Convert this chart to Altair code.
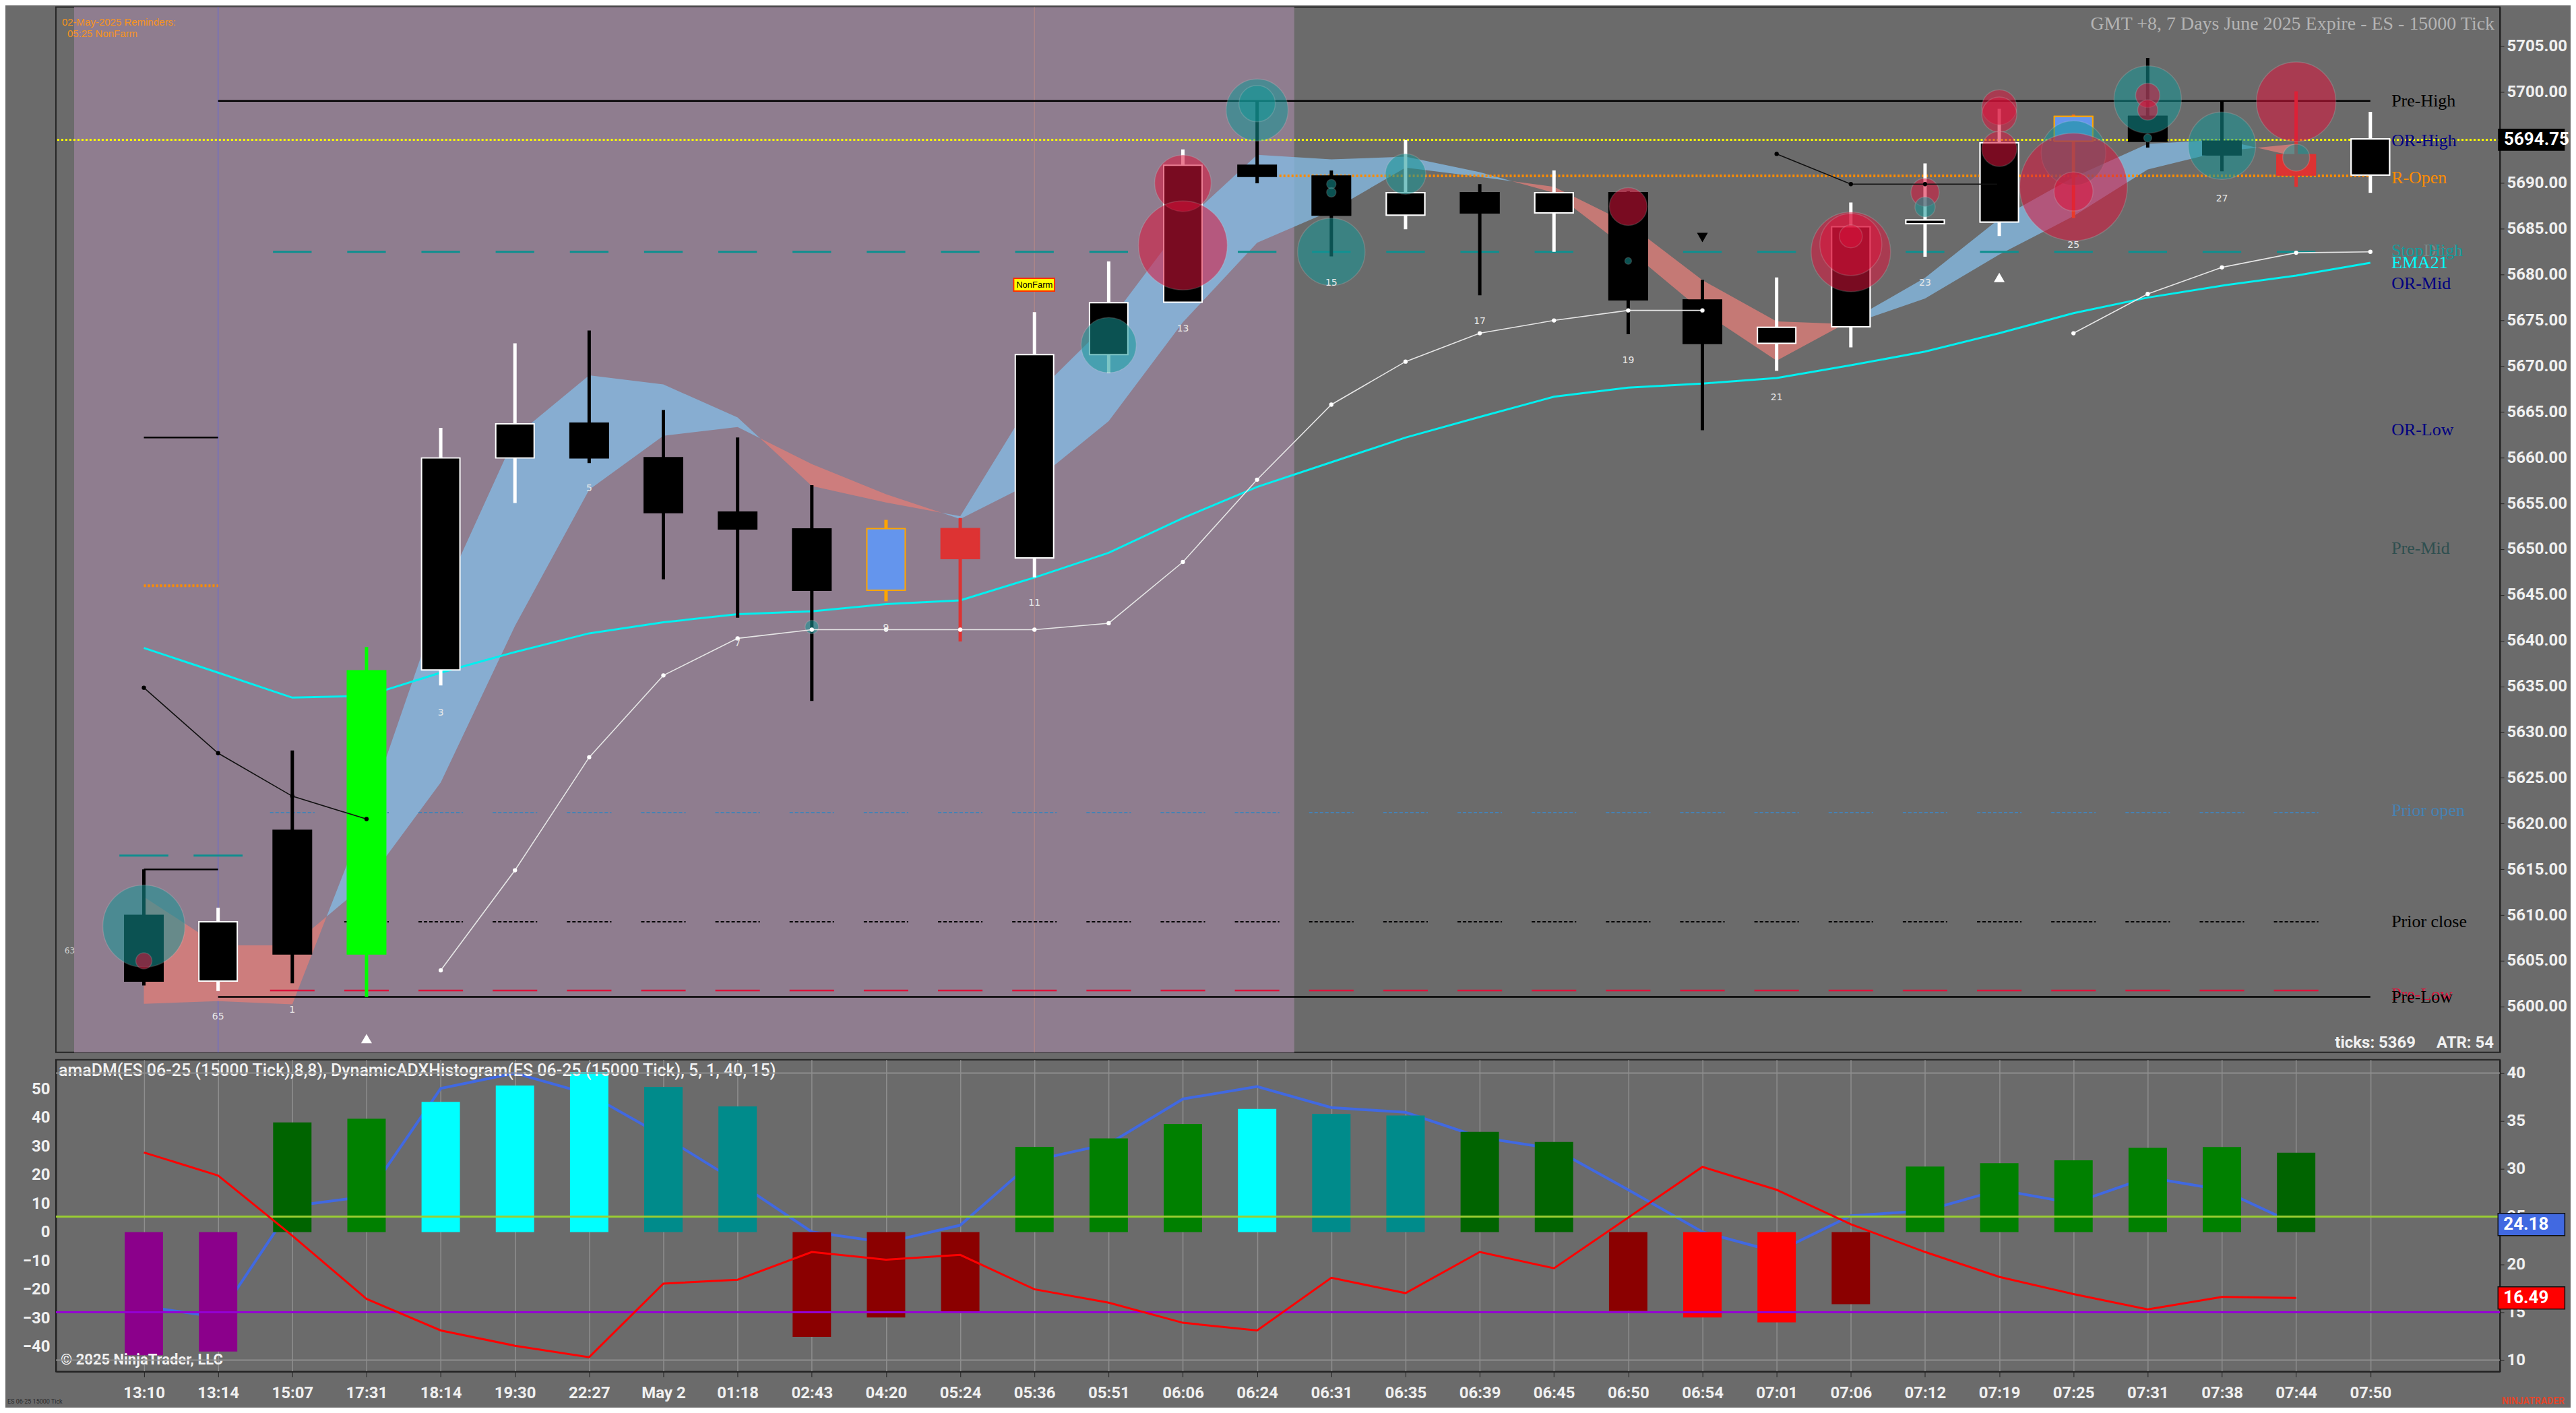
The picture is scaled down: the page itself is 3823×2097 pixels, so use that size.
import altair as alt
import pandas as pd

# ---------------- data ----------------
TIME_LABELS = ["13:10", "13:14", "15:07", "17:31", "18:14", "19:30", "22:27", "May 2",
               "01:18", "02:43", "04:20", "05:24", "05:36", "05:51", "06:06", "06:24",
               "06:31", "06:35", "06:39", "06:45", "06:50", "06:54", "07:01", "07:06",
               "07:12", "07:19", "07:25", "07:31", "07:38", "07:44", "07:50"]

BODY_TOP = [5609.97, 5609.26, 5619.26, 5636.7, 5659.97, 5663.7, 5663.77, 5660.0, 5654.05, 5652.2,
            5652.25, 5652.25, 5671.26, 5676.94, 5691.96, 5691.96, 5690.79, 5688.96, 5688.96, 5688.96,
            5688.96, 5677.24, 5674.25, 5685.24, 5685.97, 5694.42, 5697.3, 5697.3, 5694.6, 5693.1, 5694.83]
BODY_BOT = [5602.79, 5602.79, 5605.75, 5605.75, 5636.8, 5659.97, 5659.97, 5654.0, 5652.2, 5645.5,
            5645.5, 5648.96, 5649.05, 5671.26, 5676.99, 5690.74, 5686.52, 5686.52, 5686.75, 5686.75,
            5677.27, 5672.5, 5672.5, 5674.3, 5685.58, 5685.75, 5694.6, 5694.6, 5693.1, 5690.9, 5690.9]
HIGH = [5615.0, 5610.8, 5628.0, 5639.3, 5663.26, 5672.5, 5673.9, 5665.2, 5662.2, 5657.0,
        5653.2, 5653.4, 5675.9, 5681.45, 5693.7, 5698.96, 5691.4, 5694.73, 5689.9, 5691.4,
        5689.1, 5679.44, 5679.7, 5687.9, 5692.17, 5698.14, 5697.5, 5703.7, 5699.0, 5700.05, 5697.8]
LOW = [5602.3, 5601.7, 5602.55, 5601.05, 5635.1, 5655.04, 5659.4, 5646.7, 5642.5, 5633.4,
       5644.3, 5639.9, 5646.9, 5669.24, 5676.99, 5689.99, 5682.0, 5684.97, 5677.74, 5682.5,
       5673.5, 5663.0, 5669.5, 5672.06, 5681.97, 5684.23, 5686.2, 5693.9, 5691.3, 5689.6, 5688.95]

K, W_, LIME, BLUE_C, ORG, RED_C = "#000000", "#FFFFFF", "#00FF00", "#6495ED", "#FFA500", "#DD3333"
BODY_FILL = [K, K, K, LIME, K, K, K, K, K, K, BLUE_C, RED_C, K, K, K, K, K, K, K, K,
             K, K, K, K, K, K, BLUE_C, K, K, RED_C, K]
WICK_COLOR = [K, W_, K, LIME, W_, W_, K, K, K, K, ORG, RED_C, W_, W_, W_, K, K, W_, K, W_,
              K, K, W_, W_, W_, W_, "#FF6A10", K, K, RED_C, W_]
BODY_EDGE = [K, W_, K, LIME, W_, W_, K, K, K, K, ORG, RED_C, W_, W_, W_, K, K, W_, K, W_,
             K, K, W_, W_, W_, W_, ORG, K, K, RED_C, W_]

EMA21 = [5639.2, 5636.5, 5633.77, 5633.96, 5636.5, 5638.75, 5640.8, 5642.0, 5642.9, 5643.2,
         5644.0, 5644.4, 5646.9, 5649.6, 5653.4, 5656.8, 5659.5, 5662.2, 5664.45, 5666.66,
         5667.65, 5668.1, 5668.7, 5670.1, 5671.6, 5673.6, 5675.8, 5677.5, 5678.8, 5679.9, 5681.3]

# ribbon (fast / slow averages), bars 0..29
RIB_FAST = [5600.3, 5600.6, 5600.25, 5621.0, 5644.5, 5662.3, 5669.0, 5668.0, 5664.4, 5656.9,
            5655.1, 5653.6, 5666.8, 5674.8, 5685.6, 5693.1, 5692.6, 5692.9, 5691.2, 5688.96,
            5682.76, 5676.0, 5670.6, 5675.0, 5679.66, 5686.1, 5690.65, 5694.3, 5694.76, 5692.9]
RIB_SLOW = [5612.0, 5606.7, 5606.7, 5613.5, 5624.5, 5641.6, 5656.5, 5662.4, 5663.35, 5659.3,
            5656.0, 5653.3, 5657.4, 5664.0, 5674.8, 5683.5, 5687.0, 5691.7, 5690.7, 5689.6,
            5685.6, 5679.4, 5674.9, 5674.6, 5677.4, 5682.2, 5686.4, 5691.5, 5693.5, 5694.3]

WHITE_A_BARS = list(range(4, 22))
WHITE_A = [5603.96, 5614.9, 5627.25, 5636.2, 5640.25, 5641.2, 5641.2, 5641.2, 5641.2, 5641.9,
           5648.6, 5657.6, 5665.8, 5670.5, 5673.6, 5675.0, 5676.1, 5676.1]
WHITE_B_BARS = [26, 27, 28, 29, 30]
WHITE_B = [5673.6, 5677.9, 5680.8, 5682.4, 5682.5]
BLACK_A_BARS = [0, 1, 2, 3]
BLACK_A = [5634.85, 5627.7, 5623.0, 5620.5]
BLACK_B_BARS = [22, 23, 24, 25]
BLACK_B = [5693.2, 5689.9, 5689.9, 5689.9]

BUBBLE_BAR = [0, 0, 9, 13, 14, 14, 15, 15, 16, 16, 16, 17, 20, 20, 23, 23, 23, 24, 24, 25, 25, 25,
              26, 26, 26, 27, 27, 27, 27, 28, 29, 29]
BUBBLE_PRICE = [5608.8, 5605.0, 5641.5, 5672.3, 5690.0, 5683.2, 5698.0, 5698.7, 5682.5, 5689.9,
                5689.0, 5691.0, 5687.45, 5681.5, 5682.5, 5683.3, 5684.2, 5689.0, 5687.4, 5698.3,
                5697.5, 5693.75, 5693.3, 5689.6, 5689.1, 5699.15, 5699.6, 5698.0, 5694.95, 5694.1,
                5698.9, 5692.8]
BUBBLE_R = [61, 12, 10, 41, 42, 66, 46, 27, 50, 7, 7, 30, 28, 5, 59, 46, 17, 21, 15, 26, 26, 26,
            48, 80, 29, 50, 18, 15, 6, 50, 59, 20]
BUBBLE_KIND = ["t", "c", "t", "t", "c", "c", "t", "t", "t", "t", "t", "t", "c", "t", "c", "c", "c",
               "c", "t", "c", "c", "c", "t", "c", "c", "t", "c", "c", "t", "t", "c", "t"]

COUNT_BARS = [1, 2, 4, 6, 8, 10, 12, 14, 16, 18, 20, 22, 24, 26, 28]
COUNT_TEXT = ["65", "1", "3", "5", "7", "9", "11", "13", "15", "17", "19", "21", "23", "25", "27"]
COUNT_PRICE = [5598.9, 5599.6, 5632.1, 5656.6, 5639.7, 5641.4, 5644.1, 5674.1, 5679.1, 5674.9,
               5670.6, 5666.6, 5679.1, 5683.2, 5688.3]

TRI_UP_BARS = [3, 25]
TRI_UP_PRICE = [5596.5, 5679.7]
TRI_DN_BARS = [21]
TRI_DN_PRICE = [5684.06]

LAST_PRICE = 5694.75
PRE_HIGH = 5699.0
R_OPEN = 5690.8
STOP_LVL = 5682.5
PRIOR_OPEN = 5621.2
PRIOR_CLOSE = 5609.26
PRE_LOW = 5601.05
PRE_LOW_RED = 5601.75

LEVEL_NAMES = ["Pre-High", "OR-High", "R-Open", "StopDitch", "Stop High", "EMA21", "OR-Mid",
               "OR-Low", "Pre-Mid", "Prior open", "Prior close", "Pre-Low", "Pre-Low"]
LEVEL_PRICES = [5699.0, 5694.6, 5690.6, 5682.6, 5682.6, 5681.3, 5679.0, 5663.0, 5650.1, 5621.4,
                5609.3, 5601.35, 5601.05]
LEVEL_COLORS = ["#000000", "#000080", "#FF8C00", "#7A8A8A", "#119A9A", "#00FFFF", "#000080",
                "#000080", "#2F4F4F", "#4682B4", "#000000", "#DC143C", "#000000"]

# lower panel
P_, DG, G_, C_, T_, DR, R_ = "#8B008B", "#006400", "#008000", "#00FFFF", "#008B8B", "#8B0000", "#FF0000"
HIST = [-43, -41.7, 38.3, 39.6, 45.5, 51.2, 55.9, 50.7, 43.9, -36.6, -29.8, -28, 29.8, 32.7, 37.8,
        43, 41.3, 40.7, 35, 31.5, -27.5, -29.8, -31.5, -25.2, 22.9, 24.1, 25.1, 29.4, 29.7, 27.7]
HIST_COLOR = [P_, P_, DG, G_, C_, C_, C_, T_, T_, DR, DR, DR, G_, G_, G_, C_, T_, T_, DG, DG,
              DR, R_, R_, DR, G_, G_, G_, G_, G_, DG]
DI_BLUE = [15.6, 14.5, 26.1, 27.1, 38.4, 40.0, 37.8, 33.4, 28.6, 23.4, 22.3, 24.1, 30.9, 32.6, 37.3,
           38.6, 36.4, 35.9, 33.3, 32.1, 27.8, 23.4, 21.3, 25.1, 25.6, 27.8, 26.4, 29.1, 27.8, 24.18]
DI_RED = [31.7, 29.3, 23.0, 16.4, 13.1, 11.5, 10.3, 18.0, 18.4, 21.3, 20.5, 21.0, 17.4, 16.0, 13.9,
          13.1, 18.6, 17.0, 21.3, 19.6, 24.9, 30.2, 27.8, 24.2, 21.3, 18.7, 16.9, 15.3, 16.6, 16.49]
ADX_HI, ADX_LO = 25, 15

# ---------------- layout ----------------
W = 3629
MAIN_H = 1552
LOW_H = 463
FONT = "Roboto"
SERIF = "Liberation Serif"

xs = alt.Scale(domain=[-1.14, 31.7], nice=False, zero=False)
ps = alt.Scale(domain=[5595.0, 5709.25], nice=False, zero=False)
ls = alt.Scale(domain=[-48.7, 60.2], nice=False, zero=False)
rs = alt.Scale(domain=[8.8, 41.4], nice=False, zero=False)

price_axis = alt.Axis(orient="right", values=list(range(5600, 5710, 5)), format=".2f",
                      labelFont=FONT, labelFontWeight="bold", labelFontSize=24,
                      labelColor="#F0F0F0", tickColor="#222222", tickSize=6, labelPadding=4,
                      domainColor="#222222", domainWidth=2, grid=False, title=None)
time_axis = alt.Axis(values=list(range(31)),
                     labelExpr="[" + ",".join("'%s'" % t for t in TIME_LABELS) + "][datum.value]",
                     labelFont=FONT, labelFontWeight="bold", labelFontSize=24, labelColor="#F0F0F0",
                     labelPadding=12, tickColor="#222222", tickSize=8, domainColor="#222222",
                     domainWidth=2, grid=True, gridColor="#8E8E8E", gridWidth=1.5, title=None)
left_axis = alt.Axis(orient="left", values=list(range(-40, 60, 10)), labelFont=FONT,
                     labelFontWeight="bold", labelFontSize=24, labelColor="#F0F0F0", ticks=False,
                     labelPadding=9, domainColor="#222222", domainWidth=2, grid=False, title=None)
right_axis = alt.Axis(orient="right", values=list(range(10, 45, 5)), labelFont=FONT,
                      labelFontWeight="bold", labelFontSize=24, labelColor="#F0F0F0",
                      tickColor="#222222", tickSize=6, labelPadding=4, domainColor="#222222",
                      domainWidth=2, grid=False, title=None)


def X(f):
    return alt.X(f, type="quantitative", scale=xs, axis=None)


def XT(f):
    return alt.X(f, type="quantitative", scale=xs, axis=time_axis)


def P(f):
    return alt.Y(f, type="quantitative", scale=ps, axis=price_axis)


def R(f):
    return alt.Y(f, type="quantitative", scale=rs, axis=right_axis)


def note(text, x, y, **kw):
    return alt.Chart(pd.DataFrame({"t": [text]})).mark_text(**kw).encode(
        text="t:N", x=alt.value(x), y=alt.value(y))


def bar_dashes(level, first, last, half=0.3):
    return pd.DataFrame({"x0": [i - half for i in range(first, last + 1)],
                         "x1": [i + half for i in range(first, last + 1)],
                         "y": level})


def hseg(df, **kw):
    return alt.Chart(df).mark_rule(**kw).encode(x=X("x0"), x2="x1", y=P("y"))


# session background
session = alt.Chart(pd.DataFrame({"x0": [-0.94], "x1": [15.5]})).mark_rect(color="#8F7D8F").encode(
    x=X("x0"), x2="x1", y=alt.value(0), y2=alt.value(MAIN_H))

vlines = alt.Chart(pd.DataFrame({"bar": [1, 12], "c": ["#6A6AD0", "#B08888"]})).mark_rule(
    strokeWidth=1.2).encode(x=X("bar"), y=alt.value(0), y2=alt.value(MAIN_H),
                            color=alt.Color("c:N", scale=None))

# ribbon split into runs of same sign
runs = []
cur = [(0, RIB_FAST[0], RIB_SLOW[0])]
cur_up = RIB_FAST[0] >= RIB_SLOW[0]
for i in range(1, len(RIB_FAST)):
    up = RIB_FAST[i] >= RIB_SLOW[i]
    if up != cur_up:
        d0 = RIB_FAST[i - 1] - RIB_SLOW[i - 1]
        d1 = RIB_FAST[i] - RIB_SLOW[i]
        t = d0 / (d0 - d1)
        yc = RIB_FAST[i - 1] + t * (RIB_FAST[i] - RIB_FAST[i - 1])
        cur.append((i - 1 + t, yc, yc))
        runs.append((cur_up, cur))
        cur = [(i - 1 + t, yc, yc)]
        cur_up = up
    cur.append((i, RIB_FAST[i], RIB_SLOW[i]))
runs.append((cur_up, cur))
rib_rows = []
for k, (up, pts) in enumerate(runs):
    for x, f, s in pts:
        rib_rows.append({"run": k, "x": x, "f": f, "s": s,
                         "c": "#84B9E1" if up else "#DC7D78"})
ribbon = alt.Chart(pd.DataFrame(rib_rows)).mark_area(opacity=0.8).encode(
    x=X("x"), y=P("f"), y2="s", detail="run:N", color=alt.Color("c:N", scale=None))

yellow = alt.Chart(pd.DataFrame({"y": [LAST_PRICE]})).mark_rule(
    color="#FFFF00", strokeWidth=3, strokeDash=[3, 3]).encode(y=P("y"))

levels = [
    hseg(pd.DataFrame({"x0": [1], "x1": [30], "y": [PRE_HIGH]}), color="#000000", strokeWidth=2.5),
    hseg(pd.DataFrame({"x0": [15.3], "x1": [30], "y": [R_OPEN]}), color="#FF8C00", strokeWidth=4,
         strokeDash=[3, 3]),
    hseg(bar_dashes(STOP_LVL, 2, 29, 0.26), color="#0E8F8F", strokeWidth=3),
    hseg(bar_dashes(PRIOR_OPEN, 2, 29), color="#4682B4", strokeWidth=2, strokeDash=[5, 3]),
    hseg(bar_dashes(PRIOR_CLOSE, 3, 29), color="#000000", strokeWidth=2, strokeDash=[5, 3]),
    hseg(bar_dashes(PRE_LOW_RED, 2, 29), color="#DC143C", strokeWidth=2.5),
    hseg(pd.DataFrame({"x0": [1], "x1": [30], "y": [PRE_LOW]}), color="#000000", strokeWidth=2.5),
    hseg(pd.DataFrame({"x0": [0], "x1": [1], "y": [5662.2]}), color="#000000", strokeWidth=2.5),
    hseg(pd.DataFrame({"x0": [0], "x1": [1], "y": [5646.0]}), color="#FF8C00", strokeWidth=4,
         strokeDash=[3, 3]),
    hseg(bar_dashes(5616.5, 0, 1, 0.33), color="#0E8F8F", strokeWidth=3),
    hseg(pd.DataFrame({"x0": [0], "x1": [1], "y": [5615.0]}), color="#000000", strokeWidth=2.5),
]

ema = alt.Chart(pd.DataFrame({"bar": range(31), "v": EMA21})).mark_line(
    color="#00F0F0", strokeWidth=3).encode(x=X("bar"), y=P("v"))

white_df = pd.DataFrame({"bar": WHITE_A_BARS + WHITE_B_BARS, "v": WHITE_A + WHITE_B,
                         "seg": ["a"] * len(WHITE_A) + ["b"] * len(WHITE_B)})
white = alt.Chart(white_df).mark_line(
    color="#E6E6E6", strokeWidth=1.6,
    point=alt.OverlayMarkDef(filled=True, size=40, color="#FFFFFF")).encode(
    x=X("bar"), y=P("v"), detail="seg:N")

black_df = pd.DataFrame({"bar": BLACK_A_BARS + BLACK_B_BARS, "v": BLACK_A + BLACK_B,
                         "seg": ["a"] * len(BLACK_A) + ["b"] * len(BLACK_B)})
blackline = alt.Chart(black_df).mark_line(
    color="#111111", strokeWidth=1.6,
    point=alt.OverlayMarkDef(filled=True, size=40, color="#000000")).encode(
    x=X("bar"), y=P("v"), detail="seg:N")

candles = pd.DataFrame({"bar": range(31), "top": BODY_TOP, "bot": BODY_BOT, "hi": HIGH, "lo": LOW,
                        "fill": BODY_FILL, "edge": BODY_EDGE, "wick": WICK_COLOR})
wicks = alt.Chart(candles).mark_rule(strokeWidth=5).encode(
    x=X("bar"), y=P("lo"), y2="hi", color=alt.Color("wick:N", scale=None))
bodies = alt.Chart(candles).mark_bar(size=57, strokeWidth=2).encode(
    x=X("bar"), y=P("top"), y2="bot",
    fill=alt.Fill("fill:N", scale=None), stroke=alt.Stroke("edge:N", scale=None))

bub = pd.DataFrame({"bar": BUBBLE_BAR, "v": BUBBLE_PRICE,
                    "size": [4 * r * r for r in BUBBLE_R],
                    "c": ["#149696" if k == "t" else "#DC143C" for k in BUBBLE_KIND]})
bubbles = alt.Chart(bub).mark_circle(opacity=0.55, stroke="#D8D8D8", strokeWidth=1.5,
                                     strokeOpacity=0.35).encode(
    x=X("bar"), y=P("v"), size=alt.Size("size:Q", scale=None), color=alt.Color("c:N", scale=None))

counts = alt.Chart(pd.DataFrame({"bar": COUNT_BARS, "v": COUNT_PRICE, "t": COUNT_TEXT})).mark_text(
    color="#E8E8E8", fontSize=14, font="DejaVu Sans").encode(x=X("bar"), y=P("v"), text="t:N")
left63 = alt.Chart(pd.DataFrame({"bar": [-1.0], "v": [5606.1], "t": ["63"]})).mark_text(
    color="#D0D0D0", fontSize=12, font="DejaVu Sans").encode(x=X("bar"), y=P("v"), text="t:N")

tri_up = alt.Chart(pd.DataFrame({"bar": TRI_UP_BARS, "v": TRI_UP_PRICE})).mark_point(
    shape="triangle-up", filled=True, size=260, color="#FFFFFF", opacity=1).encode(x=X("bar"), y=P("v"))
tri_dn = alt.Chart(pd.DataFrame({"bar": TRI_DN_BARS, "v": TRI_DN_PRICE})).mark_point(
    shape="triangle-down", filled=True, size=260, color="#000000", opacity=1).encode(x=X("bar"), y=P("v"))

nf = alt.Chart(pd.DataFrame({"x0": [11.72], "x1": [12.27], "y0": [5678.2], "y1": [5679.6]})).mark_rect(
    fill="#FFFF00", stroke="#FF3000", strokeWidth=2).encode(x=X("x0"), x2="x1", y=P("y0"), y2="y1")
nf_text = alt.Chart(pd.DataFrame({"bar": [12], "v": [5678.9], "t": ["NonFarm"]})).mark_text(
    color="#000000", fontSize=13, font="Liberation Sans").encode(x=X("bar"), y=P("v"), text="t:N")

lvl = alt.Chart(pd.DataFrame({"n": LEVEL_NAMES, "v": LEVEL_PRICES, "c": LEVEL_COLORS})).mark_text(
    align="left", baseline="middle", font=SERIF, fontSize=26).encode(
    x=alt.value(3468), y=P("v"), text="n:N", color=alt.Color("c:N", scale=None))

mark_box = alt.Chart(pd.DataFrame({"x0": [31.72], "x1": [32.62], "y0": [LAST_PRICE - 1.21],
                                   "y1": [LAST_PRICE + 1.21]})).mark_rect(color="#000000").encode(
    x=X("x0"), x2="x1", y=P("y0"), y2="y1")
mark_txt = alt.Chart(pd.DataFrame({"bar": [31.8], "v": [LAST_PRICE], "t": ["5694.75"]})).mark_text(
    align="left", baseline="middle", color="#FFFFFF", font=FONT, fontWeight="bold", fontSize=26).encode(
    x=X("bar"), y=P("v"), text="t:N")

main = alt.layer(
    bodies, session, vlines, ribbon, yellow, *levels, ema, wicks, bodies, bubbles, white, blackline,
    counts, left63, tri_up, tri_dn, nf, nf_text, lvl, mark_box, mark_txt,
    note("02-May-2025 Reminders:", 9, 22, align="left", color="#F7941D", fontSize=15,
         font="Liberation Sans"),
    note("05:25 NonFarm", 17, 39, align="left", color="#F7941D", fontSize=15, font="Liberation Sans"),
    note("GMT +8, 7 Days June 2025 Expire - ES - 15000 Tick", 3621, 25, align="right",
         color="#B4B4B4", fontSize=28, font=SERIF),
    note("ticks: 5369", 3504, 1538, align="right", color="#F0F0F0", fontSize=24, font=FONT,
         fontWeight="bold"),
    note("ATR: 54", 3620, 1538, align="right", color="#F0F0F0", fontSize=24, font=FONT,
         fontWeight="bold"),
).properties(width=W, height=MAIN_H)

# ---------------- lower panel ----------------
di = pd.DataFrame({"bar": range(30), "b": DI_BLUE, "r": DI_RED})
blue_line = alt.Chart(di).mark_line(color="#4169E1", strokeWidth=4).encode(
    x=XT("bar"), y=alt.Y("b:Q", scale=rs, axis=None))

hist_df = pd.DataFrame({"bar": range(30), "v": HIST, "base": 0.0, "c": HIST_COLOR})
hist = alt.Chart(hist_df).mark_bar(size=57).encode(
    x=XT("bar"), y=alt.Y("v:Q", scale=ls, axis=left_axis), y2="base",
    color=alt.Color("c:N", scale=None))

left_group = alt.layer(
    hist,
    note("amaDM(ES 06-25 (15000 Tick),8,8), DynamicADXHistogram(ES 06-25 (15000 Tick), 5, 1, 40, 15)",
         4, 16, align="left", color="#F2F2F2", fontSize=25, font=FONT, fontWeight=500),
    note("\u00a9 2025 NinjaTrader, LLC", 7, 446, align="left", color="#F2F2F2", fontSize=22,
         font=FONT, fontWeight="bold"),
    note("NINJATRADER", 3725, 508, align="right", color="#E2452A", fontSize=14, font=FONT,
         fontWeight="bold"),
    note("ES 06-25 15000 Tick", -72, 508, align="left", color="#2A2A2A", fontSize=9, font=FONT),
)

grid_rules = alt.Chart(pd.DataFrame({"y": [10, 40]})).mark_rule(color="#8E8E8E", strokeWidth=2).encode(
    y=R("y:Q"))
adx_rules = alt.Chart(pd.DataFrame({"y": [ADX_HI, ADX_LO], "c": ["#9ACD32", "#9400D3"]})).mark_rule(
    strokeWidth=3).encode(y=R("y:Q"), color=alt.Color("c:N", scale=None))
red_line = alt.Chart(di).mark_line(color="#FF0000", strokeWidth=3).encode(x=XT("bar"), y=R("r:Q"))
tags = pd.DataFrame({"x0": [31.72, 31.72], "x1": [32.62, 32.62],
                     "v": [DI_BLUE[-1], DI_RED[-1]], "c": ["#4169E1", "#FF0000"],
                     "t": ["%.2f" % DI_BLUE[-1], "%.2f" % DI_RED[-1]]})
tags["y0"] = tags["v"] - 1.16
tags["y1"] = tags["v"] + 1.16
tag_box = alt.Chart(tags).mark_rect(stroke="#101010", strokeWidth=1.5).encode(
    x=XT("x0"), x2="x1", y=R("y0:Q"), y2="y1", fill=alt.Fill("c:N", scale=None))
tag_txt = alt.Chart(tags).mark_text(align="left", baseline="middle", color="#FFFFFF", font=FONT,
                                    fontWeight="bold", fontSize=26, dx=8).encode(
    x=XT("x0"), y=R("v:Q"), text="t:N")

right_group = alt.layer(grid_rules, adx_rules, red_line, tag_box, tag_txt)

lower = alt.layer(alt.layer(blue_line), left_group, right_group).resolve_scale(
    y="independent").properties(width=W, height=LOW_H)

chart = alt.vconcat(main, lower, spacing=8).properties(
    padding={"left": 2, "top": 0, "right": 0, "bottom": 0}, background="#6B6B6B"
).configure_view(stroke="#262626", strokeWidth=2)

chart.save("out.html", embed_options={"renderer": "svg", "actions": False})
